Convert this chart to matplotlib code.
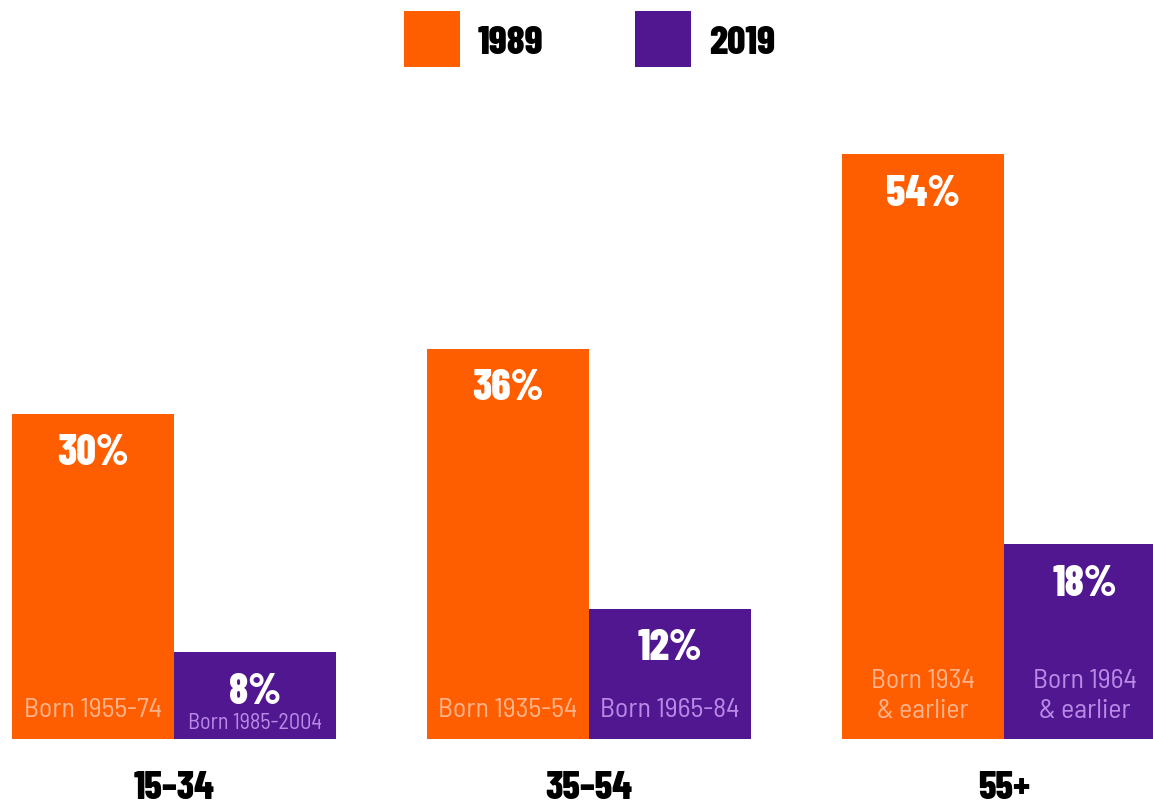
import matplotlib
matplotlib.use("Agg")
import matplotlib.pyplot as plt
from matplotlib.patches import Rectangle
import numpy as np

categories = ['15–34', '35–54', '55+']
series_names = ['1989', '2019']
values_1989 = [30, 36, 54]
values_2019 = [8, 12, 18]
born_1989 = ['Born 1955-74', 'Born 1935-54', 'Born 1934\n& earlier']
born_2019 = ['Born 1985-2004', 'Born 1965-84', 'Born 1964\n& earlier']

ORANGE = '#FF5E00'
PURPLE = '#511790'
ORANGE_TXT = '#FFB48E'
PURPLE_TXT = '#B98AE6'
BOLD = ['Barlow Condensed', 'DejaVu Sans']
REG = ['Barlow Semi Condensed', 'DejaVu Sans']

W, H = 1153, 804
fig = plt.figure(figsize=(W / 100, H / 100), dpi=100)
ax = fig.add_axes([0, 64 / H, 1, 740 / H])
px_per_pct = 325 / 30.0
ax.set_ylim(0, 740 / px_per_pct)
ax.set_xlim(-174 / 415, 2 + 149 / 415)
ax.axis('off')

x = np.arange(len(categories))
bw = 162 / 415
b1 = ax.bar(x - bw / 2, values_1989, width=bw, color=ORANGE, linewidth=0)
b2 = ax.bar(x + bw / 2, values_2019, width=bw, color=PURPLE, linewidth=0)

def pt(px):
    return px * 0.72

for bars, vals, borns, tcol in [(b1, values_1989, born_1989, ORANGE_TXT),
                                (b2, values_2019, born_2019, PURPLE_TXT)]:
    for rect, v, born in zip(bars, vals, borns):
        cx = rect.get_x() + rect.get_width() / 2
        ax.annotate(f'{v}%', (cx, v), xytext=(0, -pt(35)), textcoords='offset points',
                    ha='center', va='center_baseline', color='white', fontsize=31,
                    fontweight=800, family=BOLD)
        if '\n' in born:
            yoff, fs = 44, 20
        elif len(born) > 13:
            yoff, fs = 16, 16
        else:
            yoff, fs = 30, 20
        ax.annotate(born, (cx, 0), xytext=(0, pt(yoff)), textcoords='offset points',
                    ha='center', va='center', color=tcol, fontsize=fs,
                    family=REG, linespacing=1.3)

# category labels
for xi, cat in zip(x, categories):
    ax.annotate(cat, (xi, 0), xytext=(0, -pt(45)), textcoords='offset points',
                ha='center', va='center_baseline', color='black', fontsize=28,
                fontweight=800, family=BOLD, annotation_clip=False)

# legend
legend_items = [(404, series_names[0], ORANGE), (635, series_names[1], PURPLE)]
for lx, name, col in legend_items:
    fig.add_artist(Rectangle((lx / W, 1 - 68 / H), 56 / W, 56 / H,
                             transform=fig.transFigure, color=col, lw=0))
    fig.text((lx + 74) / W, 1 - 40 / H, name, ha='left', va='center_baseline',
             fontsize=29, fontweight=800, family=BOLD, color='black')

fig.savefig('out.png', dpi=100, facecolor='white')
